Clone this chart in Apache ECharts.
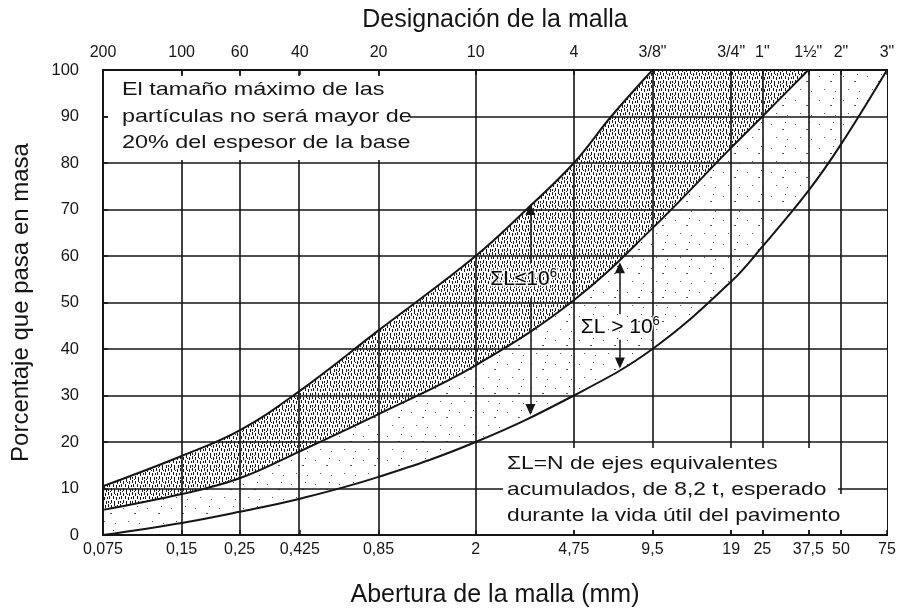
<!DOCTYPE html>
<html>
<head>
<meta charset="utf-8">
<script src="https://cdn.jsdelivr.net/npm/echarts@6/dist/echarts.min.js"></script>
<style>
html,body{margin:0;padding:0;background:#fff}
#chart{width:902px;height:613px}
</style>
</head>
<body>
<div id="chart"></div>
<script>
// aberturas de malla (mm) y designaciones
var sieveMm = [0.075, 0.15, 0.25, 0.425, 0.85, 2, 4.75, 9.5, 19, 25, 37.5, 50, 75];
var sieveMmLabels = ['0,075', '0,15', '0,25', '0,425', '0,85', '2', '4,75', '9,5', '19', '25', '37,5', '50', '75'];
var sieveNames = ['200', '100', '60', '40', '20', '10', '4', '3/8"', '3/4"', '1"', '1½"', '2"', '3"'];

// curva superior (% que pasa), hasta llegar a 100
var upperMm  = [0.075, 0.15, 0.25, 0.425, 0.85, 2, 3.13, 4.75, 6.6, 9.5];
var upperPct = [10.5, 17, 22.5, 31, 44, 60, 70, 80, 90, 100];
// curva intermedia
var middleMm  = [0.075, 0.15, 0.25, 0.425, 0.85, 2, 4.75, 9.5, 19, 25, 37.5];
var middlePct = [5.4, 8.8, 12.2, 18, 26, 36.5, 50.5, 66, 83.3, 90, 100];
// curva inferior
var lowerMm  = [0.075, 0.15, 0.25, 0.425, 0.85, 2, 4.75, 9.5, 19, 25, 37.5, 50, 75];
var lowerPct = [0, 2.6, 5, 7.8, 12.5, 20, 30, 40, 54.5, 62, 74, 84, 100];

// flechas y rotulos ΣL
var arrowLow  = [3.24, 70, 58.5, 51, 27];   // x, punta sup, corte sup, corte inf, punta inf
var arrowHigh = [7.13, 57.5, 47.5, 42, 37];
var labelLow  = [3.05, 55];
var labelHigh = [7.15, 44.7];

function pairs(xs, ys) {
	return xs.map(function (x, i) { return [x, ys[i]]; });
}
function nearestIndex(v) {
	var best = 0, d = Infinity;
	sieveMm.forEach(function (s, i) {
		var dd = Math.abs(Math.log(v) - Math.log(s));
		if (dd < d) { d = dd; best = i; }
	});
	return best;
}
function makePattern(size, marks, color, bg) {
	var c = document.createElement('canvas');
	c.width = c.height = size;
	var ctx = c.getContext('2d');
	if (bg) {
		ctx.fillStyle = bg;
		ctx.fillRect(0, 0, size, size);
	}
	ctx.fillStyle = color;
	marks.forEach(function (m) { ctx.fillRect(m[0], m[1], m[2], m[3]); });
	return c;
}

var darkDots = makePattern(12, [
	[0, 0, 1, 3], [3, 1, 1, 3], [6, 0, 1, 2], [9, 1, 1, 3], [1, 4, 1, 3], [11, 5, 1, 2],
	[5, 4, 1, 3], [8, 5, 1, 3], [3, 8, 1, 3], [6, 9, 1, 3], [10, 9, 1, 3], [0, 9, 1, 2],
	[7, 2, 1, 1], [2, 11, 1, 1]
], '#1a1a1a', null);
var lightDots = makePattern(24, [
	[3, 4, 1, 1], [14, 9, 2, 1], [8, 17, 1, 1], [19, 19, 1, 1], [17, 2, 1, 1]
], '#555', '#fff');

var font = 'Liberation Sans, Arial, Helvetica, sans-serif';
var ink = '#151515';

function arrowLines(a) {
	return [
		[{ coord: [a[0], a[2]] }, { coord: [a[0], a[1]] }],
		[{ coord: [a[0], a[3]] }, { coord: [a[0], a[4]] }]
	];
}

var option = {
	animation: false,
	backgroundColor: '#fff',
	grid: { left: 103, right: 15, top: 70, bottom: 76, show: true, borderColor: ink, borderWidth: 2 },
	xAxis: [
		{
			type: 'log', min: 0.075, max: 75, position: 'bottom', z: 10,
			name: 'Abertura de la malla (mm)', nameLocation: 'middle', nameGap: 48,
			nameTextStyle: { fontSize: 25, color: ink, fontFamily: font },
			axisLine: { show: true, lineStyle: { color: ink, width: 2 } },
			axisTick: { show: true, inside: true, length: 5, customValues: sieveMm, lineStyle: { color: ink, width: 1.5 } },
			axisLabel: {
				customValues: sieveMm, margin: 7, fontSize: 16, color: ink, fontFamily: font,
				formatter: function (v) { return sieveMmLabels[nearestIndex(v)]; }
			},
			splitLine: { show: false }, minorTick: { show: false }
		},
		{
			type: 'log', min: 0.075, max: 75, position: 'top', z: 10,
			name: 'Designación de la malla', nameLocation: 'middle', nameGap: 37,
			nameTextStyle: { fontSize: 25, color: ink, fontFamily: font },
			axisLine: { show: true, lineStyle: { color: ink, width: 2 } },
			axisTick: { show: true, inside: true, length: 5, customValues: sieveMm, lineStyle: { color: ink, width: 1.5 } },
			axisLabel: {
				customValues: sieveMm, margin: 9, fontSize: 16, color: ink, fontFamily: font,
				formatter: function (v) { return sieveNames[nearestIndex(v)]; }
			},
			splitLine: { show: false }
		}
	],
	yAxis: {
		type: 'value', min: 0, max: 100, interval: 10, z: 10,
		name: 'Porcentaje que pasa en masa', nameLocation: 'middle', nameGap: 70,
		nameTextStyle: { fontSize: 24, color: ink, fontFamily: font },
		axisLine: { show: true, lineStyle: { color: ink, width: 2 } },
		axisTick: { show: true, inside: true, length: 5, lineStyle: { color: ink, width: 1.5 } },
		axisLabel: { margin: 24, fontSize: 16.5, color: ink, fontFamily: font },
		splitLine: { show: true, lineStyle: { color: ink, width: 1.6 } }
	},
	series: [
		{
			name: 'superior', type: 'line', smooth: 0.4, symbol: 'none', z: 2,
			data: pairs(upperMm, upperPct),
			lineStyle: { color: ink, width: 2 },
			areaStyle: { origin: 'start', color: { image: darkDots, repeat: 'repeat' }, opacity: 1 }
		},
		{
			// tramo en 100 % despues de la curva superior
			name: 'superior-100', type: 'line', symbol: 'none', z: 2,
			data: pairs([upperMm[upperMm.length - 1], 75], [100, 100]),
			lineStyle: { width: 0 },
			areaStyle: { origin: 'start', color: { image: darkDots, repeat: 'repeat' }, opacity: 1 }
		},
		{
			name: 'media', type: 'line', smooth: 0.4, symbol: 'none', z: 3,
			data: pairs(middleMm, middlePct),
			lineStyle: { color: ink, width: 2 },
			areaStyle: { origin: 'start', color: { image: lightDots, repeat: 'repeat' }, opacity: 1 }
		},
		{
			name: 'media-100', type: 'line', symbol: 'none', z: 3,
			data: pairs([middleMm[middleMm.length - 1], 75], [100, 100]),
			lineStyle: { width: 0 },
			areaStyle: { origin: 'start', color: { image: lightDots, repeat: 'repeat' }, opacity: 1 }
		},
		{
			name: 'inferior', type: 'line', smooth: 0.4, symbol: 'none', z: 4,
			data: pairs(lowerMm, lowerPct),
			lineStyle: { color: ink, width: 2 },
			areaStyle: { origin: 'start', color: '#fff', opacity: 1 },
			markLine: {
				silent: true, symbol: 'none', label: { show: false }, z: 5,
				lineStyle: { color: ink, width: 1.6, type: 'solid' },
				data: sieveMm.slice(1, -1).map(function (v) { return { xAxis: v }; })
			}
		},
		{
			name: 'rotulos', type: 'scatter', symbol: 'circle', symbolSize: 0, z: 8, silent: true,
			itemStyle: { color: ink },
			data: [
				{ value: labelLow, label: { formatter: '{t|ΣL≤10}{s|6}' } },
				{ value: labelHigh, label: { formatter: '{t|ΣL > 10}{s|6}' } }
			],
			label: {
				show: true, position: 'inside', color: ink, opacity: 1,
				fontSize: 21, fontFamily: font,
				rich: {
					t: { fontSize: 21, fontFamily: font, color: '#000', lineHeight: 24,
						textBorderColor: 'rgba(255,255,255,0.8)', textBorderWidth: 3 },
					s: { fontSize: 13, fontFamily: font, color: '#000', verticalAlign: 'top', lineHeight: 24,
						textBorderColor: 'rgba(255,255,255,0.8)', textBorderWidth: 3 }
				}
			},
			markLine: {
				silent: true, symbol: ['none', 'triangle'], symbolSize: [10, 11], z: 8,
				label: { show: false },
				lineStyle: { color: ink, width: 1.5, type: 'solid' },
				data: arrowLines(arrowLow).concat(arrowLines(arrowHigh))
			}
		}
	],
	graphic: [
		{ type: 'rect', x: 108, y: 76, shape: { width: 302, height: 84 }, style: { fill: '#fff' }, z: 50 },
		{
			type: 'text', x: 122, y: 77, scaleX: 1.23, z: 51,
			style: {
				text: 'El tamaño máximo de las\npartículas no será mayor de\n20% del espesor de la base',
				font: '19px ' + font, lineHeight: 26.5, fill: ink, verticalAlign: 'top'
			}
		},
		{ type: 'rect', x: 503, y: 448, shape: { width: 335, height: 82 }, style: { fill: '#fff' }, z: 50 },
		{ type: 'rect', x: 838, y: 494, shape: { width: 14, height: 36 }, style: { fill: '#fff' }, z: 50 },
		{
			type: 'text', x: 507, y: 451, scaleX: 1.2, z: 51,
			style: {
				text: 'ΣL=N de ejes equivalentes\nacumulados, de 8,2 t, esperado\ndurante la vida útil del pavimento',
				font: '19px ' + font, lineHeight: 26, fill: ink, verticalAlign: 'top'
			}
		}
	]
};

var chart = echarts.init(document.getElementById('chart'), null, { renderer: 'canvas' });
chart.setOption(option);
</script>
</body>
</html>
